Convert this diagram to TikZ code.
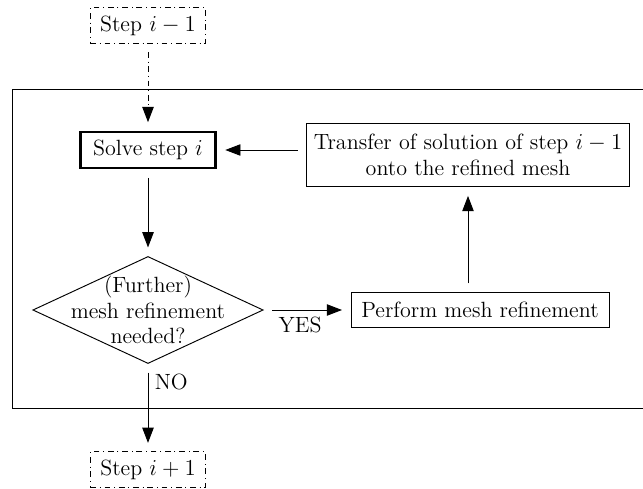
\documentclass[tikz,border=0pt]{standalone}
\usetikzlibrary{arrows.meta, shapes.geometric}

\begin{document}
\begin{tikzpicture}[
        x=0.0185cm, y=-0.0185cm,
        font=\fontsize{11.6}{13.5}\selectfont,
        line width=0.5pt,
        caja/.style={
            draw,
            rectangle,
            align=center,
            inner sep=0pt
        },
        paso/.style={
            draw,
            dash dot,
            minimum width=2.13cm,
            minimum height=0.65cm
        },
        flecha/.style={
            -{Triangle[length=8pt, width=6pt]},
            shorten <=4.5pt,
            shorten >=4.5pt
        }
    ]
        \useasboundingbox (0,0) rectangle (643,489);

        % marco del bucle
        \node[draw, minimum width=11.95cm, minimum height=5.9cm] (marco) at (336,248.5) {};

        \node[paso] (anterior) at (148,25.5) {Step $i-1$};
        \node[caja, very thick, minimum width=2.5cm, minimum height=0.67cm] (resolver) at (148,150) {Solve step $i$};
        \node[diamond, draw, align=center, aspect=2.15, inner sep=-6.9pt,
              minimum width=4.26cm, minimum height=1.98cm] (comprobar) at (148,310)
            {(Further)\\mesh refinement\\needed?};
        \node[caja, minimum width=4.77cm, minimum height=0.65cm] (refinar) at (480,310) {Perform mesh refinement};
        \node[caja, minimum width=5.96cm, minimum height=1.18cm] (transferir) at (468,155)
            {Transfer of solution of step $i-1$\\onto the refined mesh};
        \node[paso] (siguiente) at (148,469.5) {Step $i+1$};

        \draw[flecha, dash dot] (anterior) -- (resolver);
        \draw[flecha] (resolver) -- (comprobar);
        \draw[flecha] (comprobar) -- node[below, pos=0.42] {YES} (refinar);
        \draw[flecha] (refinar.north -| transferir.south) -- (transferir.south);
        \draw[flecha] (transferir.west |- resolver) -- (resolver);
        \draw[flecha] (comprobar) -- node[right, pos=0.2] {NO} (siguiente);
    \end{tikzpicture}
\end{document}
